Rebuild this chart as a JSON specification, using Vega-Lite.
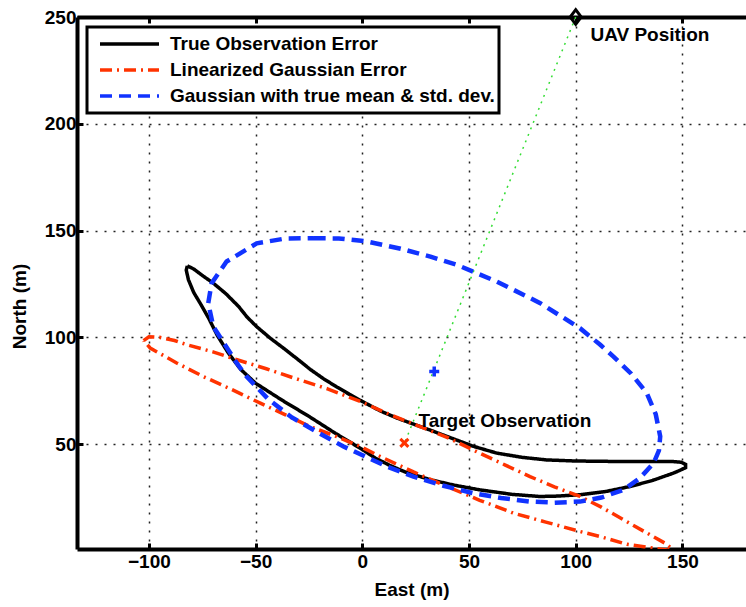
{
  "$schema": "https://vega.github.io/schema/vega-lite/v6.json",
  "width": 669,
  "height": 532,
  "autosize": {"type": "none"},
  "padding": {"left": 77, "top": 17, "right": 0, "bottom": 58},
  "background": "white",
  "config": {
    "view": {"stroke": null},
    "font": "Liberation Sans",
    "axis": {
      "labelFont": "Liberation Sans", "labelFontWeight": "bold", "labelFontSize": 19, "labelColor": "black",
      "titleFont": "Liberation Sans", "titleFontWeight": "bold", "titleFontSize": 19, "titleColor": "black",
      "domainColor": "black", "domainWidth": 4, "tickColor": "black", "tickWidth": 3, "tickSize": -6,
      "gridColor": "#222222", "gridDash": [2, 7], "gridWidth": 1.5, "gridOpacity": 1
    },
    "legend": {
      "labelFont": "Liberation Sans", "labelFontWeight": "bold", "labelFontSize": 19, "labelColor": "black", "labelLimit": 500,
      "strokeWidth": 3
    }
  },
  "datasets": {
    "curves": [
      {"series": "True Observation Error", "i": 0, "x": -82, "y": 133.5},
      {"series": "True Observation Error", "i": 1, "x": -79, "y": 132},
      {"series": "True Observation Error", "i": 2, "x": -75, "y": 129},
      {"series": "True Observation Error", "i": 3, "x": -70, "y": 125.5},
      {"series": "True Observation Error", "i": 4, "x": -64, "y": 120.5},
      {"series": "True Observation Error", "i": 5, "x": -58, "y": 114.5},
      {"series": "True Observation Error", "i": 6, "x": -54, "y": 109.5},
      {"series": "True Observation Error", "i": 7, "x": -49.5, "y": 105},
      {"series": "True Observation Error", "i": 8, "x": -43, "y": 99.5},
      {"series": "True Observation Error", "i": 9, "x": -37, "y": 95},
      {"series": "True Observation Error", "i": 10, "x": -30, "y": 89.5},
      {"series": "True Observation Error", "i": 11, "x": -24.4, "y": 85},
      {"series": "True Observation Error", "i": 12, "x": -18, "y": 80.5},
      {"series": "True Observation Error", "i": 13, "x": -12, "y": 76.8},
      {"series": "True Observation Error", "i": 14, "x": -6, "y": 73.3},
      {"series": "True Observation Error", "i": 15, "x": 0, "y": 70},
      {"series": "True Observation Error", "i": 16, "x": 8.5, "y": 65.5},
      {"series": "True Observation Error", "i": 17, "x": 16, "y": 62.3},
      {"series": "True Observation Error", "i": 18, "x": 25, "y": 59},
      {"series": "True Observation Error", "i": 19, "x": 32, "y": 56.5},
      {"series": "True Observation Error", "i": 20, "x": 39.7, "y": 53.6},
      {"series": "True Observation Error", "i": 21, "x": 52, "y": 49},
      {"series": "True Observation Error", "i": 22, "x": 63, "y": 45.8},
      {"series": "True Observation Error", "i": 23, "x": 75, "y": 43.8},
      {"series": "True Observation Error", "i": 24, "x": 86.5, "y": 42.6},
      {"series": "True Observation Error", "i": 25, "x": 100, "y": 42.1},
      {"series": "True Observation Error", "i": 26, "x": 117.6, "y": 41.9},
      {"series": "True Observation Error", "i": 27, "x": 135, "y": 41.9},
      {"series": "True Observation Error", "i": 28, "x": 145, "y": 41.9},
      {"series": "True Observation Error", "i": 29, "x": 149.5, "y": 41.5},
      {"series": "True Observation Error", "i": 30, "x": 151.5, "y": 40.5},
      {"series": "True Observation Error", "i": 31, "x": 151.5, "y": 39},
      {"series": "True Observation Error", "i": 32, "x": 149, "y": 37.8},
      {"series": "True Observation Error", "i": 33, "x": 145.7, "y": 36.4},
      {"series": "True Observation Error", "i": 34, "x": 136, "y": 33},
      {"series": "True Observation Error", "i": 35, "x": 125.6, "y": 30.2},
      {"series": "True Observation Error", "i": 36, "x": 114, "y": 27.8},
      {"series": "True Observation Error", "i": 37, "x": 102, "y": 26.3},
      {"series": "True Observation Error", "i": 38, "x": 90, "y": 25.6},
      {"series": "True Observation Error", "i": 39, "x": 83, "y": 25.5},
      {"series": "True Observation Error", "i": 40, "x": 70, "y": 26.5},
      {"series": "True Observation Error", "i": 41, "x": 55, "y": 28.6},
      {"series": "True Observation Error", "i": 42, "x": 43, "y": 30.8},
      {"series": "True Observation Error", "i": 43, "x": 32, "y": 33.3},
      {"series": "True Observation Error", "i": 44, "x": 20, "y": 37},
      {"series": "True Observation Error", "i": 45, "x": 13, "y": 40},
      {"series": "True Observation Error", "i": 46, "x": 6, "y": 43.5},
      {"series": "True Observation Error", "i": 47, "x": 0, "y": 47.5},
      {"series": "True Observation Error", "i": 48, "x": -12.5, "y": 55},
      {"series": "True Observation Error", "i": 49, "x": -25, "y": 63},
      {"series": "True Observation Error", "i": 50, "x": -37.5, "y": 70.5},
      {"series": "True Observation Error", "i": 51, "x": -50, "y": 78.5},
      {"series": "True Observation Error", "i": 52, "x": -57, "y": 85},
      {"series": "True Observation Error", "i": 53, "x": -63, "y": 93},
      {"series": "True Observation Error", "i": 54, "x": -68, "y": 101},
      {"series": "True Observation Error", "i": 55, "x": -72, "y": 109},
      {"series": "True Observation Error", "i": 56, "x": -76, "y": 116},
      {"series": "True Observation Error", "i": 57, "x": -79, "y": 121},
      {"series": "True Observation Error", "i": 58, "x": -81.5, "y": 127},
      {"series": "True Observation Error", "i": 59, "x": -82.5, "y": 131.5},
      {"series": "True Observation Error", "i": 60, "x": -82, "y": 133.5},

      {"series": "Linearized Gaussian Error", "i": 0, "x": -102.5, "y": 98.5},
      {"series": "Linearized Gaussian Error", "i": 1, "x": -100, "y": 100.3},
      {"series": "Linearized Gaussian Error", "i": 2, "x": -95, "y": 100},
      {"series": "Linearized Gaussian Error", "i": 3, "x": -88, "y": 98.5},
      {"series": "Linearized Gaussian Error", "i": 4, "x": -82, "y": 96.5},
      {"series": "Linearized Gaussian Error", "i": 5, "x": -70, "y": 93.2},
      {"series": "Linearized Gaussian Error", "i": 6, "x": -58.7, "y": 89.5},
      {"series": "Linearized Gaussian Error", "i": 7, "x": -45, "y": 85.3},
      {"series": "Linearized Gaussian Error", "i": 8, "x": -32.2, "y": 81},
      {"series": "Linearized Gaussian Error", "i": 9, "x": -16, "y": 75.8},
      {"series": "Linearized Gaussian Error", "i": 10, "x": -1, "y": 70},
      {"series": "Linearized Gaussian Error", "i": 11, "x": 11.5, "y": 64.5},
      {"series": "Linearized Gaussian Error", "i": 12, "x": 25, "y": 59},
      {"series": "Linearized Gaussian Error", "i": 13, "x": 39.7, "y": 53.2},
      {"series": "Linearized Gaussian Error", "i": 14, "x": 55, "y": 45.8},
      {"series": "Linearized Gaussian Error", "i": 15, "x": 67, "y": 40.2},
      {"series": "Linearized Gaussian Error", "i": 16, "x": 78.6, "y": 34.8},
      {"series": "Linearized Gaussian Error", "i": 17, "x": 90, "y": 30},
      {"series": "Linearized Gaussian Error", "i": 18, "x": 102, "y": 25.5},
      {"series": "Linearized Gaussian Error", "i": 19, "x": 112, "y": 20.5},
      {"series": "Linearized Gaussian Error", "i": 20, "x": 122.4, "y": 14.6},
      {"series": "Linearized Gaussian Error", "i": 21, "x": 134.9, "y": 7.5},
      {"series": "Linearized Gaussian Error", "i": 22, "x": 141.9, "y": 3.6},
      {"series": "Linearized Gaussian Error", "i": 23, "x": 144.5, "y": 1.5},
      {"series": "Linearized Gaussian Error", "i": 24, "x": 144.5, "y": 0.2},
      {"series": "Linearized Gaussian Error", "i": 25, "x": 140, "y": 0.8},
      {"series": "Linearized Gaussian Error", "i": 26, "x": 132, "y": 2},
      {"series": "Linearized Gaussian Error", "i": 27, "x": 124, "y": 3.1},
      {"series": "Linearized Gaussian Error", "i": 28, "x": 111.6, "y": 6.7},
      {"series": "Linearized Gaussian Error", "i": 29, "x": 102, "y": 9.1},
      {"series": "Linearized Gaussian Error", "i": 30, "x": 86, "y": 13.5},
      {"series": "Linearized Gaussian Error", "i": 31, "x": 70.8, "y": 17.7},
      {"series": "Linearized Gaussian Error", "i": 32, "x": 55, "y": 23.7},
      {"series": "Linearized Gaussian Error", "i": 33, "x": 39.7, "y": 30.2},
      {"series": "Linearized Gaussian Error", "i": 34, "x": 24, "y": 37},
      {"series": "Linearized Gaussian Error", "i": 35, "x": 8.4, "y": 44.2},
      {"series": "Linearized Gaussian Error", "i": 36, "x": -1, "y": 48.9},
      {"series": "Linearized Gaussian Error", "i": 37, "x": -12, "y": 53.5},
      {"series": "Linearized Gaussian Error", "i": 38, "x": -24.4, "y": 58.2},
      {"series": "Linearized Gaussian Error", "i": 39, "x": -36, "y": 63.7},
      {"series": "Linearized Gaussian Error", "i": 40, "x": -47.8, "y": 69.2},
      {"series": "Linearized Gaussian Error", "i": 41, "x": -61, "y": 75.5},
      {"series": "Linearized Gaussian Error", "i": 42, "x": -74.4, "y": 81.6},
      {"series": "Linearized Gaussian Error", "i": 43, "x": -87, "y": 88},
      {"series": "Linearized Gaussian Error", "i": 44, "x": -99.4, "y": 95},
      {"series": "Linearized Gaussian Error", "i": 45, "x": -102.5, "y": 98.5},

      {"series": "Gaussian with true mean & std. dev.", "i": 0, "x": -22.8, "y": 146.4},
      {"series": "Gaussian with true mean & std. dev.", "i": 1, "x": -11, "y": 146.3},
      {"series": "Gaussian with true mean & std. dev.", "i": 2, "x": 2.2, "y": 144.9},
      {"series": "Gaussian with true mean & std. dev.", "i": 3, "x": 18, "y": 141.5},
      {"series": "Gaussian with true mean & std. dev.", "i": 4, "x": 31.9, "y": 137.8},
      {"series": "Gaussian with true mean & std. dev.", "i": 5, "x": 44.4, "y": 133.9},
      {"series": "Gaussian with true mean & std. dev.", "i": 6, "x": 63.1, "y": 126.1},
      {"series": "Gaussian with true mean & std. dev.", "i": 7, "x": 83.4, "y": 116},
      {"series": "Gaussian with true mean & std. dev.", "i": 8, "x": 102, "y": 104.3},
      {"series": "Gaussian with true mean & std. dev.", "i": 9, "x": 111.5, "y": 96.5},
      {"series": "Gaussian with true mean & std. dev.", "i": 10, "x": 117.7, "y": 91},
      {"series": "Gaussian with true mean & std. dev.", "i": 11, "x": 126, "y": 83},
      {"series": "Gaussian with true mean & std. dev.", "i": 12, "x": 133.3, "y": 73.9},
      {"series": "Gaussian with true mean & std. dev.", "i": 13, "x": 137.5, "y": 64},
      {"series": "Gaussian with true mean & std. dev.", "i": 14, "x": 139.6, "y": 53.6},
      {"series": "Gaussian with true mean & std. dev.", "i": 15, "x": 139, "y": 47},
      {"series": "Gaussian with true mean & std. dev.", "i": 16, "x": 136.5, "y": 41.1},
      {"series": "Gaussian with true mean & std. dev.", "i": 17, "x": 130, "y": 34},
      {"series": "Gaussian with true mean & std. dev.", "i": 18, "x": 122.4, "y": 28.6},
      {"series": "Gaussian with true mean & std. dev.", "i": 19, "x": 112, "y": 25},
      {"series": "Gaussian with true mean & std. dev.", "i": 20, "x": 102, "y": 23.1},
      {"series": "Gaussian with true mean & std. dev.", "i": 21, "x": 90, "y": 22.6},
      {"series": "Gaussian with true mean & std. dev.", "i": 22, "x": 78.6, "y": 23.1},
      {"series": "Gaussian with true mean & std. dev.", "i": 23, "x": 65, "y": 24.8},
      {"series": "Gaussian with true mean & std. dev.", "i": 24, "x": 52, "y": 27},
      {"series": "Gaussian with true mean & std. dev.", "i": 25, "x": 38, "y": 30.5},
      {"series": "Gaussian with true mean & std. dev.", "i": 26, "x": 24, "y": 34.8},
      {"series": "Gaussian with true mean & std. dev.", "i": 27, "x": 11.5, "y": 39.5},
      {"series": "Gaussian with true mean & std. dev.", "i": 28, "x": -8.8, "y": 48.9},
      {"series": "Gaussian with true mean & std. dev.", "i": 29, "x": -20, "y": 55},
      {"series": "Gaussian with true mean & std. dev.", "i": 30, "x": -33, "y": 62.5},
      {"series": "Gaussian with true mean & std. dev.", "i": 31, "x": -44, "y": 71},
      {"series": "Gaussian with true mean & std. dev.", "i": 32, "x": -54.2, "y": 81.6},
      {"series": "Gaussian with true mean & std. dev.", "i": 33, "x": -58.8, "y": 87.9},
      {"series": "Gaussian with true mean & std. dev.", "i": 34, "x": -64, "y": 96},
      {"series": "Gaussian with true mean & std. dev.", "i": 35, "x": -69.8, "y": 105},
      {"series": "Gaussian with true mean & std. dev.", "i": 36, "x": -72.2, "y": 116},
      {"series": "Gaussian with true mean & std. dev.", "i": 37, "x": -70.6, "y": 125.4},
      {"series": "Gaussian with true mean & std. dev.", "i": 38, "x": -63.6, "y": 135.5},
      {"series": "Gaussian with true mean & std. dev.", "i": 39, "x": -49.5, "y": 144},
      {"series": "Gaussian with true mean & std. dev.", "i": 40, "x": -36, "y": 146.3},
      {"series": "Gaussian with true mean & std. dev.", "i": 41, "x": -22.8, "y": 146.4}
    ],
    "sight": [
      {"i": 0, "x": 100, "y": 250},
      {"i": 1, "x": 20, "y": 51}
    ],
    "markers": [
      {"kind": "uav", "x": 100, "y": 250},
      {"kind": "target", "x": 19.7, "y": 50.6},
      {"kind": "mean", "x": 33.7, "y": 84}
    ],
    "labels": [
      {"text": "UAV Position", "x": 106.9, "y": 241.6},
      {"text": "Target Observation", "x": 26.3, "y": 60.6}
    ]
  },
  "layer": [
    {
      "data": {"name": "sight"},
      "mark": {"type": "line", "color": "#33dd33", "strokeWidth": 1.5, "strokeDash": [2, 5]},
      "encoding": {
        "x": {"field": "x", "type": "quantitative", "scale": {"domain": [-133.7, 179.8], "nice": false, "zero": false},
              "axis": {"orient": "top", "labels": false, "title": null, "grid": false, "values": [-100, -50, 0, 50, 100, 150]}},
        "y": {"field": "y", "type": "quantitative", "scale": {"domain": [0.9, 250], "nice": false, "zero": false}},
        "order": {"field": "i", "type": "quantitative"}
      }
    },
    {
      "data": {"name": "curves"},
      "transform": [{"filter": "datum.series !== 'Gaussian with true mean & std. dev.'"}],
      "mark": {"type": "line", "strokeWidth": 3.5, "clip": true},
      "encoding": {
        "x": {"field": "x", "type": "quantitative", "scale": {"domain": [-133.7, 179.8], "nice": false, "zero": false},
              "axis": {"orient": "bottom", "values": [-100, -50, 0, 50, 100, 150], "format": "d", "title": "East (m)", "grid": true,
                       "labelPadding": 9, "titleY": 40, "titleBaseline": "middle"}},
        "y": {"field": "y", "type": "quantitative", "scale": {"domain": [0.9, 250], "nice": false, "zero": false},
              "axis": {"orient": "left", "values": [50, 100, 150, 200, 250], "format": "d", "title": "North (m)", "grid": true,
                       "labelPadding": 7, "titleX": -58, "titleY": 289, "titleBaseline": "middle", "titleAngle": 270}},
        "color": {"field": "series", "type": "nominal",
                  "scale": {"domain": ["True Observation Error", "Linearized Gaussian Error", "Gaussian with true mean & std. dev."],
                            "range": ["#000000", "#ff3300", "#1133ff"]},
                  "legend": {"orient": "none", "legendX": 10, "legendY": 10, "title": null, "strokeColor": "black", "fillColor": "white",
                             "padding": 4, "clipHeight": 26, "symbolOffset": 7,
                             "symbolType": "stroke", "symbolSize": 3481, "symbolStrokeWidth": 3.5, "labelOffset": 9, "rowPadding": 0}},
        "strokeDash": {"field": "series", "type": "nominal",
                  "scale": {"domain": ["True Observation Error", "Linearized Gaussian Error", "Gaussian with true mean & std. dev."],
                            "range": [[1, 0], [12, 5, 2, 5], [12, 7]]},
                  "legend": {"orient": "none", "legendX": 10, "legendY": 10, "title": null, "strokeColor": "black", "fillColor": "white",
                             "padding": 4, "clipHeight": 26, "symbolOffset": 7,
                             "symbolType": "stroke", "symbolSize": 3481, "symbolStrokeWidth": 3.5, "labelOffset": 9, "rowPadding": 0}},
        "order": {"field": "i", "type": "quantitative"}
      }
    },
    {
      "data": {"name": "curves"},
      "transform": [{"filter": "datum.series === 'Gaussian with true mean & std. dev.'"}],
      "mark": {"type": "line", "strokeWidth": 4.5, "clip": true},
      "encoding": {
        "x": {"field": "x", "type": "quantitative", "scale": {"domain": [-133.7, 179.8], "nice": false, "zero": false}, "axis": null},
        "y": {"field": "y", "type": "quantitative", "scale": {"domain": [0.9, 250], "nice": false, "zero": false}},
        "color": {"field": "series", "type": "nominal",
                  "scale": {"domain": ["True Observation Error", "Linearized Gaussian Error", "Gaussian with true mean & std. dev."],
                            "range": ["#000000", "#ff3300", "#1133ff"]}},
        "strokeDash": {"field": "series", "type": "nominal",
                  "scale": {"domain": ["True Observation Error", "Linearized Gaussian Error", "Gaussian with true mean & std. dev."],
                            "range": [[1, 0], [12, 5, 2, 5], [12, 7]]}},
        "order": {"field": "i", "type": "quantitative"}
      }
    },
    {
      "data": {"name": "markers"},
      "transform": [{"filter": "datum.kind === 'uav'"}],
      "mark": {"type": "point", "shape": "M0,-1.2L0.9,0L0,1.2L-0.9,0Z", "filled": false, "stroke": "black", "strokeWidth": 3, "size": 150, "opacity": 1},
      "encoding": {
        "x": {"field": "x", "type": "quantitative", "scale": {"domain": [-133.7, 179.8], "nice": false, "zero": false}, "axis": null},
        "y": {"field": "y", "type": "quantitative", "scale": {"domain": [0.9, 250], "nice": false, "zero": false}}
      }
    },
    {
      "data": {"name": "markers"},
      "transform": [{"filter": "datum.kind === 'target'"}],
      "mark": {"type": "point", "shape": "M-1,-1L1,1M1,-1L-1,1", "filled": false, "stroke": "#ff3300", "strokeWidth": 3, "size": 64, "opacity": 1},
      "encoding": {
        "x": {"field": "x", "type": "quantitative", "scale": {"domain": [-133.7, 179.8], "nice": false, "zero": false}, "axis": null},
        "y": {"field": "y", "type": "quantitative", "scale": {"domain": [0.9, 250], "nice": false, "zero": false}}
      }
    },
    {
      "data": {"name": "markers"},
      "transform": [{"filter": "datum.kind === 'mean'"}],
      "mark": {"type": "point", "shape": "M-1,0L1,0M0,-1L0,1", "filled": false, "stroke": "#1133ff", "strokeWidth": 3.5, "size": 100, "opacity": 1},
      "encoding": {
        "x": {"field": "x", "type": "quantitative", "scale": {"domain": [-133.7, 179.8], "nice": false, "zero": false}, "axis": null},
        "y": {"field": "y", "type": "quantitative", "scale": {"domain": [0.9, 250], "nice": false, "zero": false}}
      }
    },
    {
      "data": {"name": "labels"},
      "mark": {"type": "text", "font": "Liberation Sans", "fontWeight": "bold", "fontSize": 19, "align": "left", "baseline": "middle", "color": "black"},
      "encoding": {
        "x": {"field": "x", "type": "quantitative", "scale": {"domain": [-133.7, 179.8], "nice": false, "zero": false}, "axis": null},
        "y": {"field": "y", "type": "quantitative", "scale": {"domain": [0.9, 250], "nice": false, "zero": false}},
        "text": {"field": "text", "type": "nominal"}
      }
    }
  ],
  "resolve": {"axis": {"x": "independent"}}
}
